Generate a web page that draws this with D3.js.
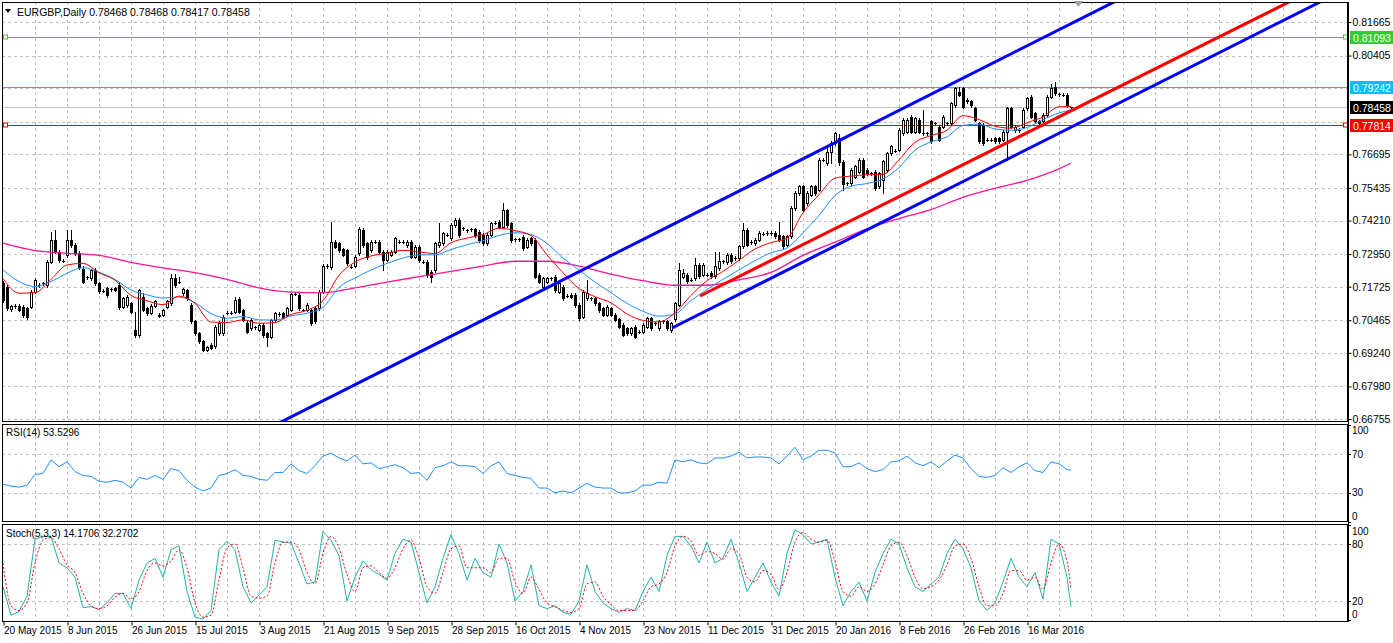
<!DOCTYPE html>
<html><head><meta charset="utf-8">
<script src="https://cdn.jsdelivr.net/npm/d3@7"></script>
<style>body{margin:0;background:#fff;overflow:hidden}svg{display:block}</style>
</head><body>
<svg id="c" width="1393" height="643"></svg>
<script>
// ---------------- DATA ----------------
const titleText = "EURGBP,Daily  0.78468 0.78468 0.78417 0.78458";
const rsiTitle = "RSI(14) 53.5296";
const stochTitle = "Stoch(5,3,3) 14.1706 32.2702";
const dateLabels = ["20 May 2015","8 Jun 2015","26 Jun 2015","15 Jul 2015","3 Aug 2015","21 Aug 2015","9 Sep 2015","28 Sep 2015","16 Oct 2015","4 Nov 2015","23 Nov 2015","11 Dec 2015","31 Dec 2015","20 Jan 2016","8 Feb 2016","26 Feb 2016","16 Mar 2016"];
const priceTicks = [0.81665,0.80405,0.76695,0.75435,0.74210,0.72950,0.71725,0.70465,0.69240,0.67980,0.66755];
const hiddenPriceTicks = [0.79180,0.77920]; // grid only, their labels sit under the level boxes
const rsiTicks = [100,70,30,0];
const stochTicks = [100,80,20,0];
const levelValues = [0.81093,0.79242,0.78458,0.77814];
const levelNames = ["green","cyan","bid","red"];

const open = [.7186,.7173,.7088,.7100,.7100,.7098,.7092,.7098,.7154,.7179,
.7185,.7179,.7267,.7348,.7304,.7269,.7290,.7348,.7329,.7298,
.7240,.7208,.7204,.7235,.7185,.7158,.7167,.7163,.7167,.7179,
.7098,.7104,.7110,.7010,.6992,.7135,.7092,.7075,.7100,.7067,
.7067,.7098,.7110,.7204,.7192,.7148,.7160,.7104,.7042,.6998,
.6967,.6935,.6954,.6948,.6998,.6998,.7075,.7075,.7079,.7125,
.7085,.7035,.7017,.7020,.7010,.7029,.6998,.6985,.7048,.7070,
.7073,.7067,.7085,.7145,.7142,.7085,.7085,.7085,.7092,.7092,
.7154,.7250,.7246,.7342,.7335,.7313,.7310,.7248,.7250,.7298,
.7385,.7335,.7310,.7342,.7342,.7304,.7273,.7292,.7304,.7342,
.7342,.7329,.7342,.7285,.7323,.7267,.7267,.7229,.7235,.7329,
.7335,.7367,.7354,.7404,.7423,.7392,.7385,.7388,.7388,.7379,
.7367,.7335,.7367,.7413,.7417,.7398,.7460,.7410,.7350,.7350,
.7360,.7323,.7354,.7348,.7217,.7173,.7192,.7204,.7210,.7154,
.7173,.7138,.7142,.7142,.7104,.7060,.7129,.7129,.7129,.7110,
.7092,.7067,.7092,.7067,.7050,.7029,.7017,.6998,.7023,.7004,
.7004,.7023,.7054,.7035,.7017,.7042,.7042,.7010,.7050,.7105,
.7210,.7218,.7199,.7205,.7255,.7218,.7218,.7224,.7212,.7243,
.7268,.7264,.7293,.7280,.7280,.7324,.7386,.7340,.7336,.7349,
.7372,.7374,.7374,.7374,.7368,.7362,.7330,.7362,.7468,.7524,
.7549,.7486,.7518,.7549,.7536,.7649,.7636,.7680,.7711,.7730,
.7640,.7561,.7561,.7586,.7605,.7649,.7611,.7599,.7605,.7549,
.7574,.7611,.7674,.7683,.7687,.7749,.7755,.7811,.7755,.7799,
.7749,.7749,.7793,.7786,.7774,.7774,.7786,.7786,.7855,.7905,
.7918,.7874,.7868,.7843,.7786,.7780,.7724,.7724,.7730,.7730,
.7724,.7755,.7843,.7761,.7761,.7774,.7843,.7886,.7824,.7793,
.7793,.7818,.7886,.7924,.7895,.7893,.7893,.78468];
const high = [.7195,.7180,.7105,.7108,.7106,.7102,.7096,.7160,.7205,.7186,
.7192,.7272,.7379,.7385,.7310,.7275,.7385,.7385,.7335,.7305,
.7250,.7214,.7240,.7242,.7190,.7164,.7172,.7168,.7172,.7190,
.7135,.7142,.7115,.7079,.7165,.7150,.7098,.7106,.7123,.7072,
.7090,.7123,.7220,.7220,.7210,.7168,.7165,.7110,.7048,.7003,
.6972,.6950,.6960,.7030,.7042,.7068,.7080,.7080,.7135,.7132,
.7090,.7042,.7053,.7026,.7034,.7035,.7003,.7053,.7078,.7076,
.7078,.7098,.7150,.7152,.7148,.7090,.7110,.7090,.7098,.7160,
.7258,.7256,.7417,.7348,.7340,.7318,.7315,.7254,.7292,.7395,
.7392,.7340,.7348,.7348,.7348,.7310,.7310,.7310,.7360,.7348,
.7348,.7348,.7348,.7329,.7329,.7273,.7273,.7235,.7340,.7410,
.7379,.7373,.7410,.7430,.7429,.7398,.7391,.7394,.7394,.7385,
.7373,.7373,.7416,.7419,.7423,.7488,.7466,.7416,.7356,.7356,
.7366,.7354,.7360,.7354,.7223,.7210,.7210,.7210,.7216,.7191,
.7179,.7144,.7148,.7148,.7110,.7160,.7198,.7135,.7135,.7116,
.7098,.7104,.7098,.7073,.7056,.7035,.7023,.7023,.7029,.7010,
.7035,.7060,.7060,.7041,.7048,.7048,.7048,.7041,.7116,.7260,
.7240,.7224,.7205,.7280,.7261,.7261,.7224,.7230,.7302,.7302,
.7274,.7299,.7299,.7286,.7330,.7411,.7392,.7346,.7355,.7380,
.7378,.7380,.7380,.7380,.7414,.7368,.7368,.7474,.7530,.7555,
.7555,.7530,.7555,.7555,.7655,.7655,.7700,.7720,.7755,.7745,
.7648,.7567,.7617,.7630,.7655,.7655,.7617,.7605,.7611,.7605,
.7649,.7680,.7705,.7689,.7767,.7805,.7805,.7817,.7811,.7805,
.7836,.7755,.7799,.7792,.7780,.7817,.7792,.7867,.7924,.7924,
.7924,.7880,.7874,.7849,.7792,.7786,.7730,.7730,.7736,.7736,
.7761,.7849,.7849,.7780,.7767,.7842,.7886,.7892,.7830,.7799,
.7824,.7892,.7935,.7943,.7901,.7899,.7899,.78468];
const low = [.7115,.7085,.7080,.7094,.7080,.7060,.7052,.7094,.7148,.7172,
.7178,.7172,.7262,.7298,.7265,.7264,.7285,.7320,.7290,.7240,
.7185,.7200,.7198,.7180,.7150,.7152,.7135,.7156,.7155,.7090,
.7092,.7098,.7072,.6985,.6985,.7080,.7068,.7070,.7095,.7058,
.7062,.7092,.7105,.7172,.7185,.7142,.7122,.7035,.6990,.6960,
.6930,.6930,.6937,.6942,.6992,.6992,.7070,.7070,.7073,.7072,
.7042,.6998,.7010,.7015,.7005,.6985,.6948,.6980,.7042,.7064,
.7055,.7062,.7080,.7140,.7086,.7080,.7080,.7028,.7036,.7086,
.7148,.7244,.7240,.7316,.7303,.7286,.7254,.7242,.7245,.7290,
.7320,.7278,.7304,.7336,.7298,.7235,.7268,.7286,.7298,.7336,
.7336,.7323,.7280,.7280,.7267,.7261,.7210,.7192,.7229,.7323,
.7329,.7361,.7348,.7398,.7360,.7386,.7379,.7382,.7360,.7342,
.7329,.7329,.7361,.7407,.7392,.7392,.7398,.7342,.7344,.7344,
.7311,.7317,.7329,.7204,.7186,.7167,.7186,.7198,.7154,.7148,
.7123,.7132,.7129,.7098,.7048,.7054,.7123,.7123,.7104,.7079,
.7061,.7061,.7061,.7042,.7017,.6986,.6992,.6992,.6979,.6998,
.6998,.7017,.7011,.7029,.7011,.7036,.7011,.7004,.7044,.7099,
.7204,.7187,.7193,.7199,.7206,.7212,.7212,.7206,.7206,.7237,
.7262,.7258,.7262,.7274,.7274,.7318,.7324,.7334,.7330,.7343,
.7366,.7368,.7368,.7356,.7343,.7318,.7324,.7356,.7462,.7518,
.7455,.7480,.7512,.7518,.7530,.7643,.7630,.7636,.7705,.7630,
.7536,.7555,.7555,.7580,.7599,.7580,.7593,.7593,.7537,.7543,
.7524,.7605,.7668,.7677,.7681,.7743,.7749,.7749,.7749,.7749,
.7743,.7743,.7712,.7780,.7718,.7768,.7780,.7780,.7849,.7887,
.7843,.7862,.7849,.7793,.7712,.7705,.7718,.7718,.7712,.7712,
.7718,.7649,.7768,.7755,.7755,.7768,.7837,.7805,.7787,.7780,
.7787,.7812,.7880,.7893,.7889,.7887,.7849,.78417];
const close = [.7123,.7092,.7100,.7100,.7085,.7067,.7060,.7154,.7198,.7179,
.7185,.7267,.7348,.7304,.7273,.7269,.7348,.7329,.7298,.7248,
.7192,.7208,.7235,.7185,.7158,.7158,.7142,.7163,.7160,.7098,
.7129,.7135,.7079,.6992,.7160,.7085,.7073,.7100,.7117,.7063,
.7085,.7117,.7204,.7179,.7192,.7163,.7129,.7042,.6998,.6967,
.6935,.6945,.6942,.7023,.7035,.7060,.7075,.7075,.7123,.7079,
.7048,.7004,.7048,.7020,.7029,.6992,.6985,.7048,.7073,.7070,
.7060,.7092,.7145,.7145,.7092,.7085,.7104,.7035,.7042,.7154,
.7250,.7250,.7342,.7323,.7310,.7292,.7260,.7248,.7285,.7388,
.7329,.7285,.7342,.7342,.7304,.7273,.7304,.7304,.7354,.7342,
.7342,.7342,.7285,.7323,.7273,.7267,.7217,.7210,.7335,.7342,
.7373,.7367,.7404,.7423,.7367,.7392,.7385,.7388,.7367,.7348,
.7335,.7367,.7410,.7413,.7398,.7460,.7404,.7348,.7350,.7350,
.7317,.7348,.7335,.7210,.7192,.7204,.7204,.7204,.7160,.7185,
.7129,.7138,.7135,.7104,.7054,.7154,.7148,.7129,.7110,.7085,
.7067,.7098,.7067,.7048,.7023,.6992,.6998,.7017,.6985,.7004,
.7029,.7054,.7017,.7035,.7042,.7042,.7017,.7035,.7110,.7235,
.7225,.7193,.7199,.7255,.7212,.7255,.7218,.7212,.7249,.7268,
.7268,.7293,.7268,.7280,.7324,.7386,.7330,.7340,.7349,.7374,
.7372,.7374,.7374,.7362,.7349,.7324,.7362,.7468,.7524,.7549,
.7461,.7524,.7549,.7524,.7649,.7649,.7680,.7711,.7749,.7640,
.7560,.7561,.7611,.7624,.7649,.7586,.7599,.7599,.7543,.7599,
.7643,.7674,.7699,.7683,.7761,.7799,.7799,.7755,.7805,.7755,
.7749,.7749,.7718,.7786,.7724,.7811,.7786,.7861,.7918,.7893,
.7849,.7868,.7855,.7799,.7718,.7711,.7724,.7724,.7718,.7718,
.7755,.7843,.7774,.7774,.7761,.7836,.7880,.7811,.7793,.7786,
.7818,.7886,.7918,.7899,.7895,.7893,.7855,.78458];

// moving averages, read every 4 bars (last point = last bar)
const maFast = [.7204,.7148,.7150,.7200,.7254,.7260,.7225,.7197,.7140,.7120,
.7105,.7137,.7110,.7040,.7038,.7048,.7035,.7038,.7068,.7084,
.7120,.7215,.7265,.7288,.7298,.7309,.7303,.7297,.7338,.7355,
.7368,.7392,.7383,.7365,.7292,.7225,.7165,.7135,.7112,.7070,
.7046,.7040,.7075,.7140,.7195,.7230,.7272,.7314,.7338,.7355,
.7450,.7518,.7580,.7588,.7593,.7595,.7649,.7715,.7740,.7760,
.7815,.7800,.7775,.7768,.7788,.7810,.7848,.7849];
const maSlow = [.7236,.7192,.7173,.7192,.7223,.7244,.7227,.7200,.7160,.7142,
.7130,.7134,.7112,.7072,.7054,.7060,.7048,.7047,.7063,.7073,
.7095,.7170,.7205,.7235,.7260,.7280,.7292,.7292,.7312,.7330,
.7345,.7365,.7375,.7368,.7335,.7280,.7235,.7190,.7150,.7110,
.7080,.7062,.7070,.7120,.7162,.7200,.7236,.7270,.7300,.7318,
.7375,.7440,.7515,.7550,.7560,.7577,.7620,.7685,.7716,.7735,
.7778,.7783,.7765,.7760,.7770,.7800,.7825,.7836];
// long moving average, read every 8 bars (last point = last bar)
const maLong = [.7336,.7308,.7298,.7290,.7264,.7243,.7225,.7200,.7168,.7152,
.7150,.7168,.7190,.7210,.7230,.7250,.7268,.7268,.7250,.7220,
.7195,.7178,.7178,.7198,.7226,.7290,.7340,.7390,.7428,.7462,
.7508,.7542,.7572,.7615,.7636];

// oscillators, read every 2 bars (last point = last bar)
const rsi = [39,37,36,38,49,50,64,57,62,52,48,47,42,41,43,41,35,46,44,48,
44,55,53,43,36,32,35,48,50,54,48,47,44,43,51,51,60,53,50,58,
68,71,66,63,69,60,61,55,57,59,56,50,51,43,56,58,62,58,58,57,
50,58,62,50,48,46,45,35,35,30,32,30,35,40,36,35,35,30,30,32,
38,38,41,40,64,62,64,61,60,66,66,68,72,66,67,67,66,60,68,77,
64,68,74,74,71,57,57,61,55,52,54,62,63,68,61,58,62,56,63,69,
66,55,47,46,48,56,51,57,61,53,51,62,60,54,53.53];
const stochK = [35,5,9,25,85,88,88,60,55,45,13,14,11,18,28,28,12,42,60,65,
45,74,78,30,3,1,10,74,83,74,35,18,26,35,84,82,81,60,38,40,
93,84,68,20,45,62,53,48,42,70,85,82,50,18,35,65,90,70,42,65,
50,45,80,60,20,30,58,15,12,15,8,6,20,58,30,18,12,8,12,10,
30,45,30,68,88,88,78,60,82,60,65,85,60,30,45,60,40,25,70,95,
90,80,82,85,45,15,30,40,20,50,70,85,80,55,35,30,38,45,70,85,
75,55,20,10,18,40,65,45,35,50,22,85,80,45,14.17];
const stochD = [60,15,10,18,60,84,87,75,58,50,28,15,12,15,24,28,22,30,52,60,
57,62,74,55,18,3,5,42,76,80,55,25,23,25,60,82,82,74,50,38,
70,88,76,48,30,55,57,50,44,55,75,84,65,35,28,50,75,78,55,55,
55,50,65,65,40,28,45,32,18,14,10,8,12,38,40,25,16,10,10,10,
20,35,38,50,78,88,83,68,72,70,64,75,70,45,40,52,48,32,50,82,
92,85,82,84,62,30,25,35,30,38,58,78,82,68,45,33,35,42,58,78,
80,65,35,15,15,28,52,52,42,45,32,60,80,62,32.27];

// drawn objects: trend lines given by two [bar, price] anchors
const channelUpper = [[70, 0.66682],[277.25, 0.82378]];
const channelLower = [[167.25, 0.70174],[328.75, 0.82378]];
const supportLine  = [[174.25, 0.71376],[321, 0.82378]];

// ---------------- LAYOUT ----------------
const W = 1393, H = 643;
const L = 2, R = 1348;
const mainTop = 2, mainBot = 422, rsiTop = 424, rsiBot = 522, stTop = 524, stBot = 622;
const FONT = "'Liberation Sans', Arial, sans-serif";
const GRID = "#c0c0c0";

const svg = d3.select("#c");
const nBars = close.length;
const x = d3.scaleLinear().domain([0, 1]).range([3, 7]); // 4px per bar
const y = d3.scaleLinear().domain([0.66644, 0.82416]).range([mainBot, mainTop]);
const yR = d3.scaleLinear().domain([0, 100]).range([522, 425]);
const yS = d3.scaleLinear().domain([0, 100]).range([620, 525]);

const maBars = d3.range(0, nBars - 1, 4).concat([nBars - 1]);
const longBars = d3.range(0, nBars - 1, 8).concat([nBars - 1]);
const oscBars = d3.range(0, nBars - 1, 2).concat([nBars - 1]);

// clip paths
const defs = svg.append("defs");
[["cm", mainTop, mainBot], ["cr", rsiTop, rsiBot], ["cs", stTop, stBot]].forEach(([id, t, b]) => {
  defs.append("clipPath").attr("id", id).append("rect").attr("x", L).attr("y", t).attr("width", R - L).attr("height", b - t);
});

// vertical grid
const vBars = d3.range(8, 400, 8).filter(b => x(b) < R);
function vgrid(t, b) {
  svg.append("g").selectAll("line").data(vBars).join("line")
    .attr("x1", d => x(d) + 0.5).attr("x2", d => x(d) + 0.5).attr("y1", t).attr("y2", b)
    .attr("stroke", GRID).attr("stroke-dasharray", "3,3");
}
vgrid(mainTop, mainBot); vgrid(rsiTop, rsiBot); vgrid(stTop, stBot);

// horizontal grid main
svg.append("g").selectAll("line").data(priceTicks.concat(hiddenPriceTicks)).join("line")
  .attr("x1", L).attr("x2", R).attr("y1", d => Math.round(y(d)) + 0.5).attr("y2", d => Math.round(y(d)) + 0.5)
  .attr("stroke", GRID).attr("stroke-dasharray", "3,3");
svg.append("g").selectAll("line").data([70, 30]).join("line")
  .attr("x1", L).attr("x2", R).attr("y1", d => Math.round(yR(d)) + 0.5).attr("y2", d => Math.round(yR(d)) + 0.5)
  .attr("stroke", GRID).attr("stroke-dasharray", "3,3");
svg.append("g").selectAll("line").data([80, 20]).join("line")
  .attr("x1", L).attr("x2", R).attr("y1", d => Math.round(yS(d)) + 0.5).attr("y2", d => Math.round(yS(d)) + 0.5)
  .attr("stroke", GRID).attr("stroke-dasharray", "3,3");

// level lines
const levelColor = {green: "#32cd32", cyan: "#00bfff", bid: "#c0c0c0", red: "#ff0000"};
const gm = svg.append("g").attr("clip-path", "url(#cm)");
levelValues.forEach((v, i) => {
  const yy = Math.round(y(v)) + 0.5;
  gm.append("line").attr("x1", L).attr("x2", R).attr("y1", yy).attr("y2", yy).attr("stroke", levelColor[levelNames[i]]);
  if (levelNames[i] === "green" || levelNames[i] === "red") {
    [L + 1, R - 5].forEach(px => gm.append("rect").attr("x", px + 0.5).attr("y", yy - 2.5).attr("width", 4).attr("height", 4)
      .attr("fill", "#fff").attr("stroke", levelColor[levelNames[i]]));
  }
});

// candles
const bars = d3.range(nBars);
const gc = gm.append("g");
gc.selectAll("line.w").data(bars).join("line").attr("class", "w")
  .attr("x1", i => x(i) + 0.5).attr("x2", i => x(i) + 0.5)
  .attr("y1", i => Math.round(y(high[i]))).attr("y2", i => Math.round(y(low[i])) + 1)
  .attr("stroke", "#000");
bars.forEach(i => {
  const o = open[i], c = close[i], cx = x(i);
  const yo = Math.round(y(o)), yc = Math.round(y(c));
  if (Math.abs(yo - yc) < 1) {
    gc.append("line").attr("x1", cx - 1).attr("x2", cx + 2).attr("y1", yc + 0.5).attr("y2", yc + 0.5).attr("stroke", "#000");
  } else if (c > o) {
    gc.append("rect").attr("x", cx - 0.5).attr("y", yc + 0.5).attr("width", 2).attr("height", yo - yc)
      .attr("fill", "#fff").attr("stroke", "#000");
  } else {
    gc.append("rect").attr("x", cx - 1).attr("y", yo).attr("width", 3).attr("height", yc - yo + 1).attr("fill", "#000");
  }
});

// moving averages
const lineGen = (xs, ys) => d3.line().x((d, k) => x(xs[k])).y(d => ys(d)).curve(d3.curveMonotoneX);
gm.append("path").datum(maLong).attr("d", lineGen(longBars, y)).attr("fill", "none").attr("stroke", "#ff1493").attr("stroke-width", 1.3);
gm.append("path").datum(maSlow).attr("d", lineGen(maBars, y)).attr("fill", "none").attr("stroke", "#1e90ff").attr("stroke-width", 1);
gm.append("path").datum(maFast).attr("d", lineGen(maBars, y)).attr("fill", "none").attr("stroke", "#ff0000").attr("stroke-width", 1);

// trend lines (extended to the right)
function trend(a, color, startAtAnchor) {
  const slope = (a[1][1] - a[0][1]) / (a[1][0] - a[0][0]);
  const b0 = startAtAnchor ? a[0][0] : a[0][0] - 200;
  const b1 = 400;
  gm.append("line").attr("x1", x(b0)).attr("y1", y(a[0][1] + slope * (b0 - a[0][0])))
    .attr("x2", x(b1)).attr("y2", y(a[0][1] + slope * (b1 - a[0][0])))
    .attr("stroke", color).attr("stroke-width", 3);
}
trend(channelUpper, "#0000ff", false);
trend(channelLower, "#0000ff", true);
trend(supportLine, "#ff0000", true);

// RSI
svg.append("g").attr("clip-path", "url(#cr)").append("path").datum(rsi)
  .attr("d", d3.line().x((d, k) => x(oscBars[k])).y(d => yR(d)))
  .attr("fill", "none").attr("stroke", "#1e90ff");
// Stochastic
const gs = svg.append("g").attr("clip-path", "url(#cs)");
gs.append("path").datum(stochK).attr("d", d3.line().x((d, k) => x(oscBars[k])).y(d => yS(d)))
  .attr("fill", "none").attr("stroke", "#20b2aa").attr("stroke-width", 1);
gs.append("path").datum(stochD).attr("d", d3.line().x((d, k) => x(oscBars[k])).y(d => yS(d)).curve(d3.curveMonotoneX))
  .attr("fill", "none").attr("stroke", "#ff0000").attr("stroke-dasharray", "2,2").attr("stroke-width", 1);

// panel borders
[[mainTop, mainBot], [rsiTop, rsiBot], [stTop, stBot]].forEach(([t, b]) => {
  svg.append("rect").attr("x", L + 0.5).attr("y", t + 0.5).attr("width", R - L - 1).attr("height", b - t - 1)
    .attr("fill", "none").attr("stroke", "#000");
});

// time axis
const tickBars = dateLabels.map((d, k) => k * 16);
const xAxis = d3.axisBottom(x).tickValues(tickBars).tickFormat((d, k) => dateLabels[k]).tickSize(4).tickSizeOuter(0);
const ga = svg.append("g").attr("transform", `translate(0.5,${stBot - 0.5})`).call(xAxis);
ga.select(".domain").remove();
ga.selectAll("text").attr("text-anchor", "start").attr("dx", "0").attr("dy", "0.55em").attr("x", 0)
  .style("font-family", FONT).style("font-size", "10px").attr("fill", "#000");
ga.selectAll("line").attr("stroke", "#000");

// price axis
const pa = svg.append("g").attr("transform", `translate(${R - 0.5},0)`)
  .call(d3.axisRight(y).tickValues(priceTicks).tickFormat(d3.format(".5f")).tickSize(4).tickSizeOuter(0));
pa.select(".domain").remove();
pa.selectAll("text").attr("x", 5).style("font-family", FONT).style("font-size", "10.5px").attr("fill", "#000");
pa.selectAll("line").attr("stroke", "#000");

// level value boxes
const boxColor = {green: "#32cd32", cyan: "#00bfff", bid: "#000000", red: "#ff0000"};
levelValues.forEach((v, i) => {
  const yy = Math.round(y(v));
  svg.append("rect").attr("x", R + 2).attr("y", yy - 6).attr("width", 43).attr("height", 13).attr("fill", boxColor[levelNames[i]]);
  svg.append("text").attr("x", R + 5).attr("y", yy + 0.5).attr("dominant-baseline", "central")
    .style("font-family", FONT).style("font-size", "10.5px").attr("fill", "#fff").text(d3.format(".5f")(v));
});

// oscillator labels
function oscLabels(ticks, sc, pos) {
  ticks.forEach((t, k) => {
    svg.append("line").attr("x1", R).attr("x2", R + 3).attr("y1", Math.round(sc(t)) + 0.5).attr("y2", Math.round(sc(t)) + 0.5).attr("stroke", "#000");
    svg.append("text").attr("x", R + 4).attr("y", pos[k]).attr("dominant-baseline", "central")
      .style("font-family", FONT).style("font-size", "10px").attr("fill", "#000").text(t);
  });
}
oscLabels(rsiTicks, yR, [430, yR(70), yR(30), 516]);
oscLabels(stochTicks, yS, [531, yS(80), yS(20), 614]);

// right border line of the axis area
svg.append("line").attr("x1", R + 0.5).attr("x2", R + 0.5).attr("y1", mainTop).attr("y2", stBot).attr("stroke", "#000");

// titles
svg.append("path").attr("d", "M5,9 L11,9 L8,13 Z").attr("fill", "#000");
svg.append("text").attr("x", 17).attr("y", 11.5).attr("dominant-baseline", "central")
  .style("font-family", FONT).style("font-size", "10.5px").attr("fill", "#000").text(titleText);
svg.append("text").attr("x", 6).attr("y", 432).attr("dominant-baseline", "central")
  .style("font-family", FONT).style("font-size", "10px").attr("fill", "#000").text(rsiTitle);
svg.append("text").attr("x", 6).attr("y", 533).attr("dominant-baseline", "central")
  .style("font-family", FONT).style("font-size", "10px").attr("fill", "#000").text(stochTitle);

// chart-shift marker
svg.append("path").attr("d", "M1074,1 L1083,1 L1078.5,7 Z").attr("fill", "#a0a0a0");
</script>
</body></html>
